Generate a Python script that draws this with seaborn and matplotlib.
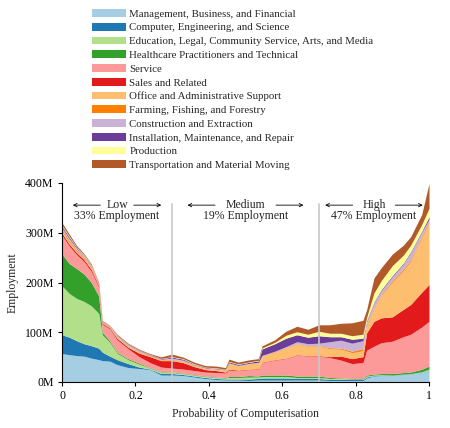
import numpy as np
import pandas as pd
import matplotlib
matplotlib.use("Agg")
import matplotlib.pyplot as plt
from matplotlib.patches import Patch
import seaborn as sns

sns.set_theme(style="ticks")
plt.rcParams['font.family'] = ['Liberation Serif', 'DejaVu Serif']

categories = [
    "Management, Business, and Financial",
    "Computer, Engineering, and Science",
    "Education, Legal, Community Service, Arts, and Media",
    "Healthcare Practitioners and Technical",
    "Service",
    "Sales and Related",
    "Office and Administrative Support",
    "Farming, Fishing, and Forestry",
    "Construction and Extraction",
    "Installation, Maintenance, and Repair",
    "Production",
    "Transportation and Material Moving",
]

prob = [0.00, 0.02, 0.04, 0.06, 0.08, 0.10, 0.11, 0.13, 0.15, 0.18, 0.21, 0.24,
        0.27, 0.30, 0.33, 0.36, 0.39, 0.42, 0.445, 0.455, 0.48, 0.51, 0.535, 0.545,
        0.58, 0.61, 0.64, 0.67, 0.70, 0.73, 0.76, 0.79, 0.82, 0.83, 0.85, 0.87,
        0.90, 0.93, 0.95, 0.98, 1.00]

# employment in millions, per occupation group
management = [57, 55, 53, 52, 48, 45, 43, 42, 35, 29, 27, 25, 14, 14, 13, 10, 7, 5, 4, 4, 4, 3, 4, 4,
              4, 4, 4, 4, 4, 3, 3, 3, 3, 8, 12, 13, 13, 15, 16, 19, 22]
computer = [38, 35, 30, 25, 25, 23, 17, 10, 10, 8, 3, 1, 3, 3, 2, 2, 2, 2, 2, 2, 2, 3, 3, 4,
            4, 4, 3, 3, 3, 2, 2, 2, 2, 2, 1, 1, 0.5, 0.5, 0.5, 0.5, 1]
education = [98, 88, 85, 85, 80, 70, 35, 28, 13, 8, 6, 2, 3, 2, 2, 2, 2, 2, 2, 3, 3, 4, 3, 3,
             3, 3, 2, 2, 2, 2, 2, 1, 1, 2, 1, 1, 0.5, 0.5, 0.5, 1, 3]
healthcare = [64, 60, 60, 55, 47, 35, 5, 3, 2, 2, 2, 1, 1, 1, 1, 1, 1, 1, 1, 2, 2, 3, 2, 3,
              3, 3, 3, 3, 3, 2, 1, 1, 1, 2, 2, 2, 3, 3, 3, 5, 6]
service = [38, 35, 28, 25, 22, 18, 16, 24, 25, 20, 13, 10, 9, 8, 8, 8, 8, 9, 9, 13, 12, 12, 14, 25,
           30, 33, 42, 40, 40, 40, 36, 30, 32, 50, 56, 62, 65, 72, 76, 85, 90]
sales = [4, 4, 4, 4, 4, 3, 2, 2, 3, 3, 7, 12, 13, 15, 13, 8, 5, 4, 2, 2, 1, 1, 1, 1,
         1, 1, 1, 1, 1, 2, 8, 10, 12, 35, 50, 50, 49, 55, 60, 70, 74]
office = [4, 4, 3, 3, 3, 2, 1, 1, 2, 2, 2, 1, 1, 2, 2, 2, 2, 2, 3, 11, 8, 10, 11, 12,
          15, 20, 21, 19, 19, 16, 14, 12, 12, 15, 25, 45, 70, 78, 87, 110, 123]
farming = [3, 3, 2, 2, 2, 1, 1, 1, 1, 1, 1, 1, 1, 1, 1, 1, 0.5, 0.5, 0.5, 0.5, 0.5, 0.5, 0.5, 0.5,
           1, 1, 1, 1, 1, 2, 2, 3, 4, 3, 2, 2, 3, 3, 3, 3, 3]
construction = [4, 4, 3, 3, 2, 1, 1, 1, 2, 2, 2, 1, 1, 2, 2, 1, 1, 1, 1, 1, 1, 1, 1, 1,
                1, 2, 4, 4, 5, 12, 16, 16, 16, 5, 10, 8, 8, 10, 14, 8, 5]
installation = [3, 3, 2, 1, 1, 1, 1, 0.5, 1, 1, 1, 1, 1, 2, 2, 1, 1, 1, 1, 2, 2, 2, 3, 13,
                15, 17, 14, 13, 15, 10, 7, 8, 5, 2, 2, 2, 2, 2, 2, 2, 5]
production = [2, 2, 1, 1, 1, 0.5, 0.5, 0.5, 0.5, 0.5, 0.5, 0.5, 0.5, 1, 1, 1, 0.5, 1, 0.5, 1, 1, 1, 1, 2,
              3, 6, 6, 6, 9, 7, 7, 7, 8, 6, 18, 18, 20, 16, 13, 13, 17]
transportation = [5, 4, 3, 2, 2, 1, 1, 1, 1.5, 1.5, 1.5, 1.5, 3, 5, 3, 3, 3, 3.5, 3, 4.5, 3.5, 4, 3.5, 4,
                  5, 8, 11, 10, 13, 17, 20, 26, 28, 15, 30, 26, 23, 20, 17, 20, 50]

series = [management, computer, education, healthcare, service, sales, office,
          farming, construction, installation, production, transportation]

xticks = [0, 0.2, 0.4, 0.6, 0.8, 1.0]
xtick_labels = ["0", "0.2", "0.4", "0.6", "0.8", "1"]
yticks = [0, 100, 200, 300, 400]
ytick_labels = ["0M", "100M", "200M", "300M", "400M"]

regions = [("Low", "33% Employment", 0.15), ("Medium", "19% Employment", 0.5),
           ("High", "47% Employment", 0.85)]
boundaries = [0.3, 0.7]

palette = sns.color_palette("Paired", 12)

W, H = 450, 428
fig = plt.figure(figsize=(W / 100, H / 100), dpi=100)
ax = fig.add_axes([62 / W, 1 - 382 / H, (429 - 62) / W, (382 - 183) / H])

ax.stackplot(prob, *series, colors=palette, linewidth=0)

for b in boundaries:
    ax.plot([b, b], [0, 358], color="#c8c8c8", lw=1.2, zorder=3)

fs = 8.5
for word, share, cx in regions:
    ax.text(cx, 345, word + "\n" + share, ha="center", va="center",
            fontsize=fs, linespacing=0.95)
    half = 0.0125 * len(word) + 0.008
    for sgn in (-1, 1):
        ax.annotate("", xy=(cx + sgn * (half + 0.075), 355.5), xytext=(cx + sgn * half, 355.5),
                    arrowprops=dict(arrowstyle="->", lw=0.6, color="black",
                                    shrinkA=0, shrinkB=0, mutation_scale=6))

ax.set_xlim(0, 1)
ax.set_ylim(0, 400)
ax.set_xticks(xticks)
ax.set_xticklabels(xtick_labels)
ax.set_yticks(yticks)
ax.set_yticklabels(ytick_labels)
ax.tick_params(axis="both", labelsize=fs, length=3, width=0.8, pad=3, colors="black")
for s in ["left", "bottom"]:
    ax.spines[s].set_color("black")
    ax.spines[s].set_linewidth(0.8)
sns.despine(ax=ax)
ax.set_xlabel("Probability of Computerisation", fontsize=fs, labelpad=4)
ax.set_ylabel("Employment", fontsize=fs, labelpad=5)

handles = [Patch(facecolor=c, edgecolor="none", label=l) for c, l in zip(palette, categories)]
fig.legend(handles=handles, loc="upper left", bbox_to_anchor=(92 / W, 1 - 9 / H),
           frameon=False, fontsize=7.8, handlelength=3.1, handleheight=0.75,
           labelspacing=0.37, handletextpad=0.35, borderpad=0, borderaxespad=0)

fig.savefig("out.png", dpi=100)
